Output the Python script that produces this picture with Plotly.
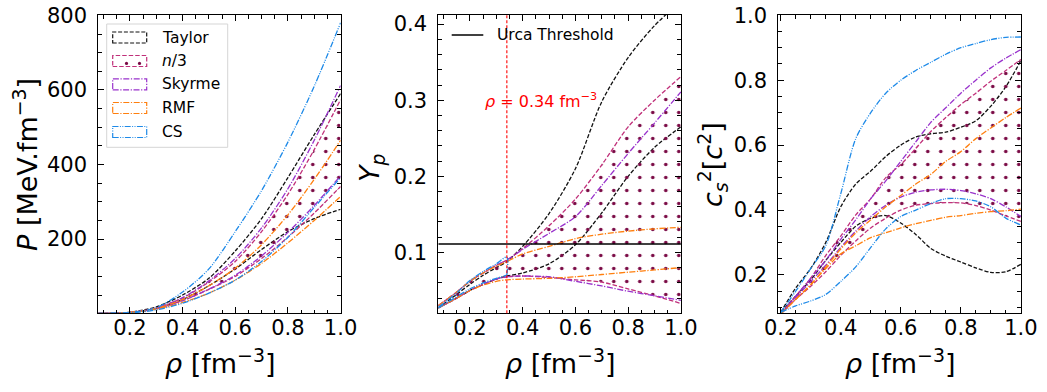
import plotly.graph_objects as go

# ---------------- data ----------------
MODELS = ["Taylor", "n/3", "Skyrme", "RMF", "CS"]

# Panel 1: pressure P [MeV fm^-3] vs density
RHO_P = [0.08, 0.15, 0.2, 0.3, 0.4, 0.5, 0.6, 0.7, 0.8, 0.9, 1.0]
P_TAYLOR_UP = [0.5, 1.5, 4, 18, 50, 95, 168, 255, 365, 480, 590]
P_TAYLOR_LO = [0.5, 1.5, 3, 14, 38, 75, 120, 172, 220, 255, 280]
P_N3_UP = [0.5, 1.5, 3, 15, 42, 85, 140, 220, 320, 440, 574]
P_N3_LO = [0.5, 1.5, 3, 13, 35, 65, 100, 148, 205, 270, 341]
P_SKY_UP = [0.5, 1.5, 3, 15, 43, 88, 148, 230, 335, 465, 612]
P_SKY_LO = [0.5, 1.5, 3, 13, 35, 66, 103, 155, 218, 290, 370]
P_RMF_UP = [0.5, 1.5, 3, 14, 38, 75, 122, 185, 265, 360, 465]
P_RMF_LO = [0.5, 1.5, 3, 12, 30, 55, 90, 135, 190, 250, 314]
P_CS_UP = [0.5, 1.5, 3, 16, 58, 120, 220, 330, 460, 610, 780]
P_CS_LO = [0.5, 1.5, 2, 10, 28, 55, 90, 140, 205, 285, 365]

# Panel 2: proton fraction Y_p vs density
RHO_Y = [0.08, 0.15, 0.2, 0.25, 0.3, 0.34, 0.4, 0.5, 0.6, 0.7, 0.8, 0.9, 1.0]
Y_TAYLOR_UP = [0.027, 0.045, 0.058, 0.07, 0.08, 0.088, 0.108, 0.151, 0.21, 0.298, 0.356, 0.398, 0.43]
Y_TAYLOR_LO = [0.027, 0.04, 0.05, 0.058, 0.065, 0.069, 0.073, 0.085, 0.11, 0.152, 0.2, 0.238, 0.265]
Y_N3_UP = [0.03, 0.048, 0.062, 0.073, 0.083, 0.09, 0.105, 0.135, 0.17, 0.215, 0.265, 0.30, 0.331]
Y_N3_LO = [0.027, 0.04, 0.05, 0.058, 0.065, 0.068, 0.069, 0.067, 0.064, 0.061, 0.052, 0.043, 0.033]
Y_SKY_UP = [0.03, 0.048, 0.062, 0.073, 0.083, 0.09, 0.104, 0.125, 0.147, 0.188, 0.23, 0.27, 0.311]
Y_SKY_LO = [0.027, 0.04, 0.05, 0.058, 0.065, 0.068, 0.069, 0.068, 0.062, 0.056, 0.049, 0.043, 0.037]
Y_RMF_UP = [0.03, 0.048, 0.062, 0.073, 0.082, 0.088, 0.098, 0.108, 0.118, 0.124, 0.128, 0.131, 0.133]
Y_RMF_LO = [0.027, 0.04, 0.05, 0.057, 0.062, 0.064, 0.065, 0.066, 0.068, 0.071, 0.074, 0.077, 0.08]
RHO_Y_CS = [0.08, 0.15, 0.2, 0.25, 0.3, 0.34]
Y_CS_UP = [0.028, 0.047, 0.063, 0.075, 0.085, 0.094]
Y_CS_LO = [0.027, 0.042, 0.052, 0.06, 0.066, 0.07]
URCA_THRESHOLD = 0.111
RHO_MARK = 0.34

# Panel 3: speed of sound squared vs density
RHO_C = [0.2, 0.25, 0.3, 0.35, 0.4, 0.45, 0.5, 0.55, 0.6, 0.65, 0.7, 0.75, 0.8, 0.85, 0.9, 0.95, 1.0]
C_TAYLOR_UP = [0.085, 0.16, 0.22, 0.30, 0.41, 0.48, 0.52, 0.565, 0.60, 0.625, 0.635, 0.64, 0.655, 0.675, 0.72, 0.78, 0.86]
C_TAYLOR_LO = [0.085, 0.135, 0.185, 0.245, 0.30, 0.35, 0.375, 0.383, 0.36, 0.325, 0.282, 0.258, 0.24, 0.222, 0.208, 0.21, 0.233]
C_N3_UP = [0.08, 0.135, 0.19, 0.26, 0.32, 0.385, 0.435, 0.50, 0.54, 0.59, 0.642, 0.685, 0.725, 0.76, 0.797, 0.83, 0.864]
C_N3_LO = [0.08, 0.125, 0.165, 0.21, 0.26, 0.305, 0.345, 0.375, 0.40, 0.415, 0.42, 0.423, 0.422, 0.414, 0.40, 0.382, 0.365]
C_SKY_UP = [0.08, 0.135, 0.19, 0.245, 0.31, 0.37, 0.435, 0.49, 0.55, 0.61, 0.67, 0.715, 0.76, 0.80, 0.838, 0.868, 0.894]
C_SKY_LO = [0.08, 0.13, 0.18, 0.23, 0.285, 0.335, 0.38, 0.415, 0.44, 0.455, 0.462, 0.464, 0.46, 0.45, 0.435, 0.41, 0.38]
C_RMF_UP = [0.08, 0.125, 0.17, 0.225, 0.28, 0.33, 0.37, 0.41, 0.445, 0.48, 0.51, 0.55, 0.58, 0.62, 0.653, 0.685, 0.714]
C_RMF_LO = [0.08, 0.125, 0.17, 0.22, 0.265, 0.29, 0.315, 0.33, 0.345, 0.358, 0.368, 0.378, 0.383, 0.39, 0.395, 0.398, 0.403]
C_CS_UP = [0.085, 0.15, 0.22, 0.29, 0.45, 0.62, 0.70, 0.76, 0.80, 0.83, 0.855, 0.88, 0.90, 0.913, 0.925, 0.932, 0.933]
C_CS_LO = [0.085, 0.105, 0.12, 0.14, 0.18, 0.225, 0.285, 0.342, 0.38, 0.40, 0.42, 0.435, 0.435, 0.428, 0.41, 0.375, 0.354]

# ---------------- styles ----------------
FONT = "DejaVu Sans"
STYLE = {
    "Taylor": dict(color="#111111", dash="4px,1.8px"),
    "n/3": dict(color="#C0307A", dash="4.5px,2px"),
    "Skyrme": dict(color="#9932CC", dash="6px,1.6px,1.2px,1.6px"),
    "RMF": dict(color="#FF7F0E", dash="6px,1.6px,1.2px,1.6px"),
    "CS": dict(color="#1E8AE8", dash="6px,1.4px,1px,1.4px,1px,1.4px"),
}
DOT_COLOR = "#7A0A45"
LW = 1.3

fig = go.Figure()

panels = [
    ("x", "y", RHO_P, {
        "Taylor": (P_TAYLOR_UP, P_TAYLOR_LO), "n/3": (P_N3_UP, P_N3_LO),
        "Skyrme": (P_SKY_UP, P_SKY_LO), "RMF": (P_RMF_UP, P_RMF_LO),
        "CS": (P_CS_UP, P_CS_LO)}),
    ("x2", "y2", RHO_Y, {
        "Taylor": (Y_TAYLOR_UP, Y_TAYLOR_LO), "n/3": (Y_N3_UP, Y_N3_LO),
        "Skyrme": (Y_SKY_UP, Y_SKY_LO), "RMF": (Y_RMF_UP, Y_RMF_LO)}),
    ("x3", "y3", RHO_C, {
        "Taylor": (C_TAYLOR_UP, C_TAYLOR_LO), "n/3": (C_N3_UP, C_N3_LO),
        "Skyrme": (C_SKY_UP, C_SKY_LO), "RMF": (C_RMF_UP, C_RMF_LO),
        "CS": (C_CS_UP, C_CS_LO)}),
]

def line_of(m):
    s = STYLE[m]
    return dict(color=s["color"], dash=s["dash"], width=LW, shape="spline", smoothing=0.8)

for xa, ya, rho, data in panels:
    for m in MODELS:
        if m not in data:
            continue
        up, lo = data[m]
        fig.add_trace(go.Scatter(x=rho, y=lo, mode="lines", line=line_of(m), xaxis=xa, yaxis=ya,
                                 showlegend=False, name=m + " lower", hoverinfo="skip"))
        if m == "n/3":
            fig.add_trace(go.Scatter(x=rho, y=up, mode="lines", line=line_of(m), xaxis=xa, yaxis=ya,
                                     fill="tonexty", fillcolor="rgba(0,0,0,0)",
                                     fillpattern=dict(shape=".", fgcolor=DOT_COLOR, bgcolor="rgba(0,0,0,0)",
                                                      fgopacity=1, size=13, solidity=0.06),
                                     showlegend=False, name=m + " upper", hoverinfo="skip"))
        else:
            fig.add_trace(go.Scatter(x=rho, y=up, mode="lines", line=line_of(m), xaxis=xa, yaxis=ya,
                                     showlegend=False, name=m + " upper", hoverinfo="skip"))
    if xa == "x2":
        # CS only defined up to the marked density; its upper bound drops to the lower one
        fig.add_trace(go.Scatter(x=RHO_Y_CS, y=Y_CS_LO, mode="lines", line=line_of("CS"),
                                 xaxis=xa, yaxis=ya, showlegend=False, hoverinfo="skip"))
        fig.add_trace(go.Scatter(x=RHO_Y_CS + [RHO_Y_CS[-1]], y=Y_CS_UP + [Y_CS_LO[-1]], mode="lines",
                                 line=line_of("CS"), xaxis=xa, yaxis=ya, showlegend=False, hoverinfo="skip"))

# Urca threshold and marker line (panel 2)
fig.add_trace(go.Scatter(x=[0.08, 1.0], y=[URCA_THRESHOLD, URCA_THRESHOLD], mode="lines",
                         line=dict(color="black", width=1.4), xaxis="x2", yaxis="y2",
                         showlegend=False, name="Urca Threshold", hoverinfo="skip"))
fig.add_shape(type="line", xref="x2", yref="y2 domain", x0=RHO_MARK, x1=RHO_MARK, y0=0, y1=1,
              line=dict(color="red", width=1.1, dash="3px,2px"), layer="above")

# ---------------- layout ----------------
W, H = 1047, 392
def px(x):
    return x / W
def py(y):
    return 1 - y / H

ydom = [py(313.3), py(15)]
xdoms = [[px(98.3), px(340.7)], [px(438.3), px(681)], [px(778.3), px(1021)]]

TICKFONT = dict(family=FONT, size=21, color="black")

def xaxis(dom, rng, anchor):
    return dict(domain=dom, range=rng, anchor=anchor, showline=True, linecolor="black", linewidth=1.1,
                mirror="allticks", ticks="inside", ticklen=6, tickwidth=1.3, tickcolor="black",
                tickmode="linear", tick0=0.2, dtick=0.2, tickformat=".1f", automargin=False,
                minor=dict(ticks="inside", ticklen=3.5, tickwidth=1, tickcolor="black", dtick=0.05, tick0=0),
                showgrid=False, zeroline=False, ticklabelstandoff=-5, tickfont=TICKFONT)

def yaxis(dom, rng, anchor, tick0, dtick, mdtick, fmt):
    return dict(domain=dom, range=rng, anchor=anchor, showline=True, linecolor="black", linewidth=1.1,
                mirror="allticks", ticks="inside", ticklen=6, tickwidth=1.3, tickcolor="black",
                tickmode="linear", tick0=tick0, dtick=dtick, tickformat=fmt, automargin=False,
                minor=dict(ticks="inside", ticklen=3.5, tickwidth=1, tickcolor="black", dtick=mdtick, tick0=0),
                showgrid=False, zeroline=False, ticklabelstandoff=6, tickfont=TICKFONT)

fig.update_layout(
    width=W, height=H, margin=dict(l=0, r=0, t=0, b=0, pad=0, autoexpand=False),
    paper_bgcolor="white", plot_bgcolor="white", showlegend=False,
    font=dict(family=FONT, color="black"),
    xaxis=xaxis(xdoms[0], [0.08, 1.0005], "y"),
    yaxis=yaxis(ydom, [1, 801], "x", 0, 200, 50, "d"),
    xaxis2=xaxis(xdoms[1], [0.08, 1.0005], "y2"),
    yaxis2=yaxis(ydom, [0.02, 0.412], "x2", 0, 0.1, 0.02, ".1f"),
    xaxis3=xaxis(xdoms[2], [0.192, 1.0005], "y3"),
    yaxis3=yaxis(ydom, [0.082, 1.0008], "x3", 0, 0.2, 0.05, ".1f"),
)

ann = []
# axis titles
xt = "<i>ρ</i> [fm<sup>−3</sup>]"
for dom in xdoms:
    ann.append(dict(text=xt, x=(dom[0] + dom[1]) / 2, y=py(361), xref="paper", yref="paper",
                    showarrow=False, font=dict(size=27), xanchor="center", yanchor="middle"))
ann.append(dict(text="<i>P</i> [MeV.fm<sup>−3</sup>]", x=px(25), y=py(165), xref="paper", yref="paper",
                showarrow=False, textangle=-90, font=dict(size=27), xanchor="center", yanchor="middle"))
ann.append(dict(text="<i>Y<sub>p</sub></i>", x=px(371), y=py(168), xref="paper", yref="paper",
                showarrow=False, textangle=-90, font=dict(size=27), xanchor="center", yanchor="middle"))
ann.append(dict(text="<i>c</i><sub><i>s</i></sub><sup>2</sup>[<i>c</i><sup>2</sup>]", x=px(712), y=py(165),
                xref="paper", yref="paper", showarrow=False, textangle=-90, font=dict(size=27),
                xanchor="center", yanchor="middle"))
# red density label
ann.append(dict(text="<i>ρ</i> = 0.34 fm<sup>−3</sup>", x=0.25, y=0.3, xref="x2", yref="y2",
                showarrow=False, font=dict(size=16, color="red"), xanchor="left", yanchor="middle"))

# custom legend, panel 1
shapes = [dict(type="rect", xref="paper", yref="paper", x0=px(106.7), x1=px(227.7), y0=py(147.3), y1=py(24),
               line=dict(color="#D5D5D5", width=1), fillcolor="rgba(255,255,255,0.85)", layer="above")]
row_y = [37.5, 61, 84.3, 108, 132]
for m, yc in zip(MODELS, row_y):
    s = STYLE[m]
    shapes.append(dict(type="rect", xref="paper", yref="paper", x0=px(112.7), x1=px(146.7),
                       y0=py(yc + 5.5), y1=py(yc - 5.5), line=dict(color=s["color"], width=1.2, dash=s["dash"]),
                       fillcolor="rgba(0,0,0,0)", layer="above"))
    label = "<i>n</i>/3" if m == "n/3" else m
    ann.append(dict(text=label, x=px(160), y=py(yc), xref="paper", yref="paper", showarrow=False,
                    font=dict(size=15.5), xanchor="left", yanchor="middle"))
for dx in (126.5, 139.5):
    shapes.append(dict(type="circle", xref="paper", yref="paper", x0=px(dx - 1.6), x1=px(dx + 1.6),
                       y0=py(row_y[1] + 4), y1=py(row_y[1] + 0.8), line=dict(width=0),
                       fillcolor=DOT_COLOR, layer="above"))
# legend, panel 2
shapes.append(dict(type="line", xref="paper", yref="paper", x0=px(451.7), x1=px(483.3), y0=py(35), y1=py(35),
                   line=dict(color="black", width=1.4), layer="above"))
ann.append(dict(text="Urca Threshold", x=px(495), y=py(35), xref="paper", yref="paper", showarrow=False,
                font=dict(size=15.5), xanchor="left", yanchor="middle"))

fig.update_layout(annotations=ann, shapes=list(fig.layout.shapes) + shapes)
fig.write_html("out.html", config={"displayModeBar": False},
               post_script="document.body.style.margin='0';document.body.style.padding='0';"
                           "document.documentElement.style.overflow='hidden';")
